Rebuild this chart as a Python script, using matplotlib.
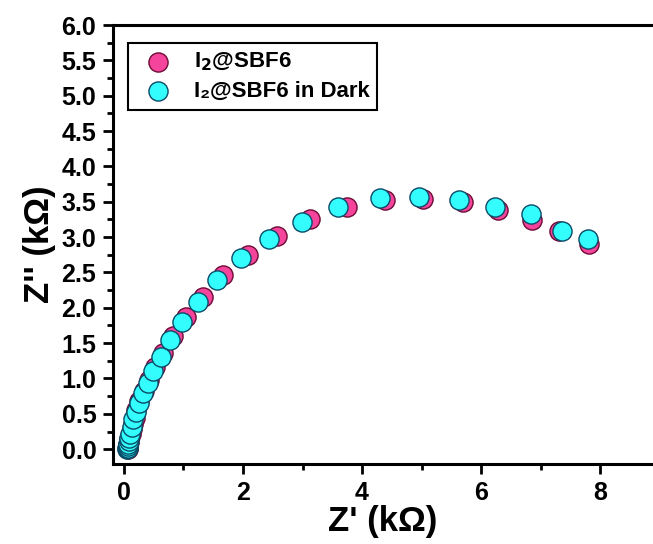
import matplotlib.pyplot as plt
from matplotlib.ticker import MultipleLocator

plt.rcParams['font.family'] = ['Liberation Sans', 'DejaVu Sans']
plt.rcParams['font.weight'] = 'bold'
plt.rcParams['mathtext.default'] = 'bf'

# I2@SBF6 (light)
zr_light = [0.06, 0.062, 0.065, 0.07, 0.08, 0.09, 0.11, 0.13, 0.15, 0.18, 0.21,
            0.26, 0.33, 0.42, 0.52, 0.66, 0.83, 1.04, 1.33, 1.66, 2.08, 2.57,
            3.13, 3.75, 4.39, 5.03, 5.70, 6.29, 6.86, 7.31, 7.82]
zi_light = [0.00, 0.02, 0.04, 0.07, 0.10, 0.15, 0.21, 0.28, 0.35, 0.44, 0.55,
            0.68, 0.83, 0.98, 1.16, 1.36, 1.60, 1.87, 2.15, 2.46, 2.74, 3.01,
            3.25, 3.42, 3.52, 3.54, 3.49, 3.38, 3.24, 3.08, 2.90]

# I2@SBF6 in dark
zr_dark = [0.055, 0.058, 0.06, 0.065, 0.07, 0.08, 0.09, 0.10, 0.13, 0.15, 0.20,
           0.25, 0.32, 0.40, 0.48, 0.62, 0.77, 0.97, 1.25, 1.57, 1.97, 2.44,
           2.99, 3.60, 4.30, 4.95, 5.63, 6.24, 6.84, 7.36, 7.80]
zi_dark = [0.00, 0.01, 0.02, 0.04, 0.07, 0.11, 0.16, 0.22, 0.31, 0.42, 0.52,
           0.65, 0.79, 0.93, 1.10, 1.31, 1.54, 1.80, 2.08, 2.40, 2.70, 2.97,
           3.21, 3.42, 3.55, 3.57, 3.52, 3.42, 3.32, 3.08, 2.98]

fig = plt.figure(figsize=(6.53, 5.44), dpi=100)
ax = fig.add_axes([0.173, 0.147, 0.827, 0.807])

ax.scatter(zr_light, zi_light, s=190, c='#f5449c', edgecolors='#6e0a35',
           linewidths=1.0, label=r'I$_2$@SBF6', zorder=3)
ax.scatter(zr_dark, zi_dark, s=190, c='#33fdfd', edgecolors='#0a4a66',
           linewidths=1.0, label='I₂@SBF6 in Dark', zorder=4)

ax.set_xlim(-0.185, 8.89)
ax.set_ylim(-0.21, 6.0)
ax.xaxis.set_major_locator(MultipleLocator(2))
ax.xaxis.set_minor_locator(MultipleLocator(1))
ax.yaxis.set_major_locator(MultipleLocator(0.5))
ax.yaxis.set_minor_locator(MultipleLocator(0.25))
ax.yaxis.set_major_formatter(plt.FormatStrFormatter('%.1f'))

for side in ['left', 'bottom', 'top']:
    ax.spines[side].set_linewidth(2.2)
ax.spines['right'].set_visible(False)
ax.tick_params(which='major', direction='out', length=7, width=2, labelsize=18, pad=5)
ax.tick_params(which='minor', direction='out', length=4, width=2)

ax.set_xlabel("Z' (kΩ)", fontsize=25, fontweight='bold', labelpad=0)
ax.set_ylabel("Z'' (kΩ)", fontsize=25, fontweight='bold', labelpad=4)

leg = ax.legend(loc='upper left', bbox_to_anchor=(0.196, 0.921),
                bbox_transform=fig.transFigure, fontsize=16, fancybox=False,
                edgecolor='black', framealpha=1, borderaxespad=0,
                handletextpad=0.6, borderpad=0.35, labelspacing=0.35)
leg.get_frame().set_linewidth(1.5)

fig.savefig('out.png', dpi=100)
